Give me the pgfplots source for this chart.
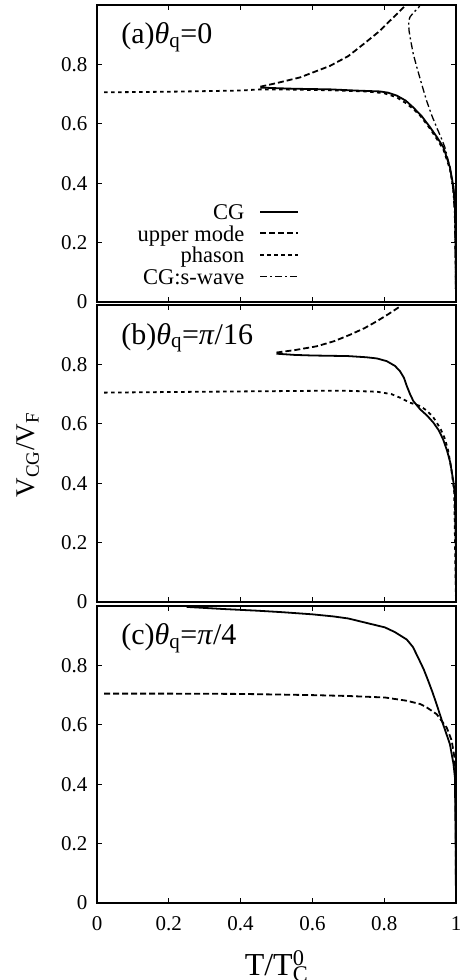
\documentclass[border=0pt]{standalone}
\usepackage{fontspec}
\setmainfont{Liberation Serif}
\usepackage{pgfplots}
\pgfplotsset{compat=1.18}

\newcommand{\ticksize}{\fontsize{21}{25}\selectfont}
\newcommand{\titlesize}{\fontsize{30}{34}\selectfont}

\pgfplotsset{
  panel/.style={
    scale only axis, width=359pt, height=297pt,
    xmin=0, xmax=1, ymin=0, ymax=1,
    xtick={0,0.2,0.4,0.6,0.8,1}, ytick={0,0.2,0.4,0.6,0.8},
    tick align=inside, major tick length=5pt,
    axis line style={line width=1.4pt},
    every tick/.style={black, line width=0.9pt},
    tick label style={font=\ticksize},
    /pgf/number format/assume math mode=true,
    /pgf/number format/fixed,
    yticklabel style={xshift=-6pt},
    xticklabel style={yshift=-10pt},
    every axis plot/.append style={line width=1.8pt, black},
  },
  dashedline/.style={dash pattern=on 6pt off 3pt},
  dottedline/.style={dash pattern=on 3.5pt off 3.5pt},
  dashdotline/.style={dash pattern=on 7pt off 3pt on 2pt off 3pt, line width=1.3pt},
}

\begin{document}
\begin{tikzpicture}

% ---------------- (a) theta_q = 0 ----------------
\begin{axis}[panel, at={(97pt,-302pt)}, anchor=south west,
  xticklabels={},
  legend cell align=right, legend plot pos=right,
  legend style={draw=none, fill=none, at={(rel axis cs:0.572,0.336)}, anchor=north east,
    font=\fontsize{22.5}{22.5}\selectfont, row sep=0pt,
    /tikz/every odd column/.append style={column sep=15pt},
    nodes={inner sep=0pt, text height=15.5pt, text depth=6pt}},
  legend image code/.code={\draw[#1] (0pt,3.5pt) -- (38pt,3.5pt);},
]
\addplot[solid] coordinates {
(0.455,0.722)(0.5,0.720)(0.55,0.718)(0.649,0.716)(0.72,0.712)(0.788,0.709)
(0.81,0.705)(0.835,0.695)(0.86,0.678)(0.881,0.655)(0.905,0.625)(0.928,0.588)
(0.947,0.555)(0.965,0.521)(0.983,0.454)(0.993,0.387)(0.997,0.32)(0.999,0.15)(1,0)};
\addlegendentry{CG}
\addplot[dashedline] coordinates {
(0.455,0.725)(0.5,0.737)(0.565,0.756)(0.649,0.795)(0.7,0.828)(0.742,0.868)
(0.788,0.913)(0.81,0.94)(0.835,0.969)(0.858,0.997)(0.862,1.01)};
\addlegendentry{upper mode}
\addplot[dottedline] coordinates {
(0.02,0.706)(0.2,0.708)(0.4,0.712)(0.455,0.716)(0.55,0.715)(0.65,0.713)
(0.75,0.709)(0.8,0.703)(0.835,0.689)(0.86,0.670)(0.881,0.650)(0.9,0.628)
(0.928,0.583)(0.95,0.543)(0.965,0.513)(0.983,0.448)(0.993,0.38)(0.998,0.3)(1,0)};
\addlegendentry{phason}
\addplot[dashdotline] coordinates {
(0.905,1.01)(0.895,0.99)(0.882,0.975)(0.872,0.96)(0.868,0.946)(0.869,0.915)
(0.874,0.879)(0.881,0.835)(0.891,0.79)(0.904,0.735)(0.918,0.678)(0.932,0.63)
(0.946,0.588)(0.958,0.555)(0.969,0.521)(0.983,0.454)(0.991,0.387)(0.996,0.3)(1,0)};
\addlegendentry{CG:s-wave}
\node[anchor=base west, font=\titlesize] at (rel axis cs:0.058,0.87)
  {(a)\textit{θ}\textsubscript{q}=0};
\end{axis}

% ---------------- (b) theta_q = pi/16 ----------------
\begin{axis}[panel, at={(97pt,-602pt)}, anchor=south west,
  xticklabels={},
  ylabel={V\textsubscript{CG}/V\textsubscript{F}},
  ylabel style={at={(axis description cs:-0.192,0.495)}, anchor=center,
    font=\fontsize{27}{30}\selectfont},
]
\addplot[solid] coordinates {
(0.50,0.836)(0.55,0.832)(0.6,0.830)(0.65,0.829)(0.70,0.828)(0.751,0.824)
(0.78,0.820)(0.807,0.811)(0.83,0.795)(0.844,0.777)(0.855,0.755)(0.863,0.727)
(0.872,0.700)(0.881,0.677)(0.9,0.649)(0.92,0.627)(0.937,0.604)(0.952,0.578)
(0.964,0.548)(0.975,0.510)(0.984,0.470)(0.993,0.403)(0.997,0.358)(0.999,0.2)(1,0)};
\addplot[dashedline] coordinates {
(0.50,0.840)(0.55,0.848)(0.612,0.861)(0.66,0.878)(0.705,0.900)(0.745,0.922)
(0.779,0.945)(0.81,0.968)(0.844,0.995)(0.85,1.01)};
\addplot[dottedline] coordinates {
(0.02,0.705)(0.2,0.707)(0.4,0.709)(0.6,0.711)(0.7,0.711)(0.78,0.708)
(0.82,0.700)(0.844,0.688)(0.872,0.671)(0.9,0.660)(0.918,0.645)(0.935,0.625)
(0.946,0.605)(0.958,0.580)(0.969,0.550)(0.978,0.51)(0.988,0.44)(0.995,0.37)(1,0)};
\node[anchor=base west, font=\titlesize] at (rel axis cs:0.058,0.868)
  {(b)\textit{θ}\textsubscript{q}=\textit{π}/16};
\end{axis}

% ---------------- (c) theta_q = pi/4 ----------------
\begin{axis}[panel, at={(97pt,-903pt)}, anchor=south west,
  xlabel={T/T\rlap{\textsuperscript{0}}\textsubscript{C}},
  xlabel style={at={(axis description cs:0.5,-0.2424)}, anchor=base,
    font=\fontsize{32}{36}\selectfont},
]
\addplot[solid] coordinates {
(0.25,0.997)(0.35,0.990)(0.45,0.984)(0.519,0.979)(0.6,0.972)(0.658,0.965)
(0.7,0.958)(0.751,0.943)(0.802,0.928)(0.83,0.912)(0.863,0.887)(0.88,0.862)
(0.895,0.825)(0.91,0.787)(0.923,0.747)(0.935,0.708)(0.946,0.669)(0.964,0.602)
(0.983,0.535)(0.993,0.468)(0.997,0.423)(0.999,0.2)(1,0)};
\addplot[dashedline] coordinates {
(0.02,0.705)(0.2,0.705)(0.4,0.704)(0.6,0.700)(0.7,0.697)(0.802,0.692)
(0.863,0.681)(0.9,0.670)(0.918,0.659)(0.935,0.645)(0.946,0.636)(0.962,0.610)
(0.974,0.591)(0.988,0.547)(0.997,0.48)(0.999,0.3)(1,0)};
\node[anchor=base west, font=\titlesize] at (rel axis cs:0.058,0.871)
  {(c)\textit{θ}\textsubscript{q}=\textit{π}/4};
\end{axis}

\pgfresetboundingbox
\path[use as bounding box] (0pt,0pt) rectangle (459pt,-980pt);
\end{tikzpicture}
\end{document}
